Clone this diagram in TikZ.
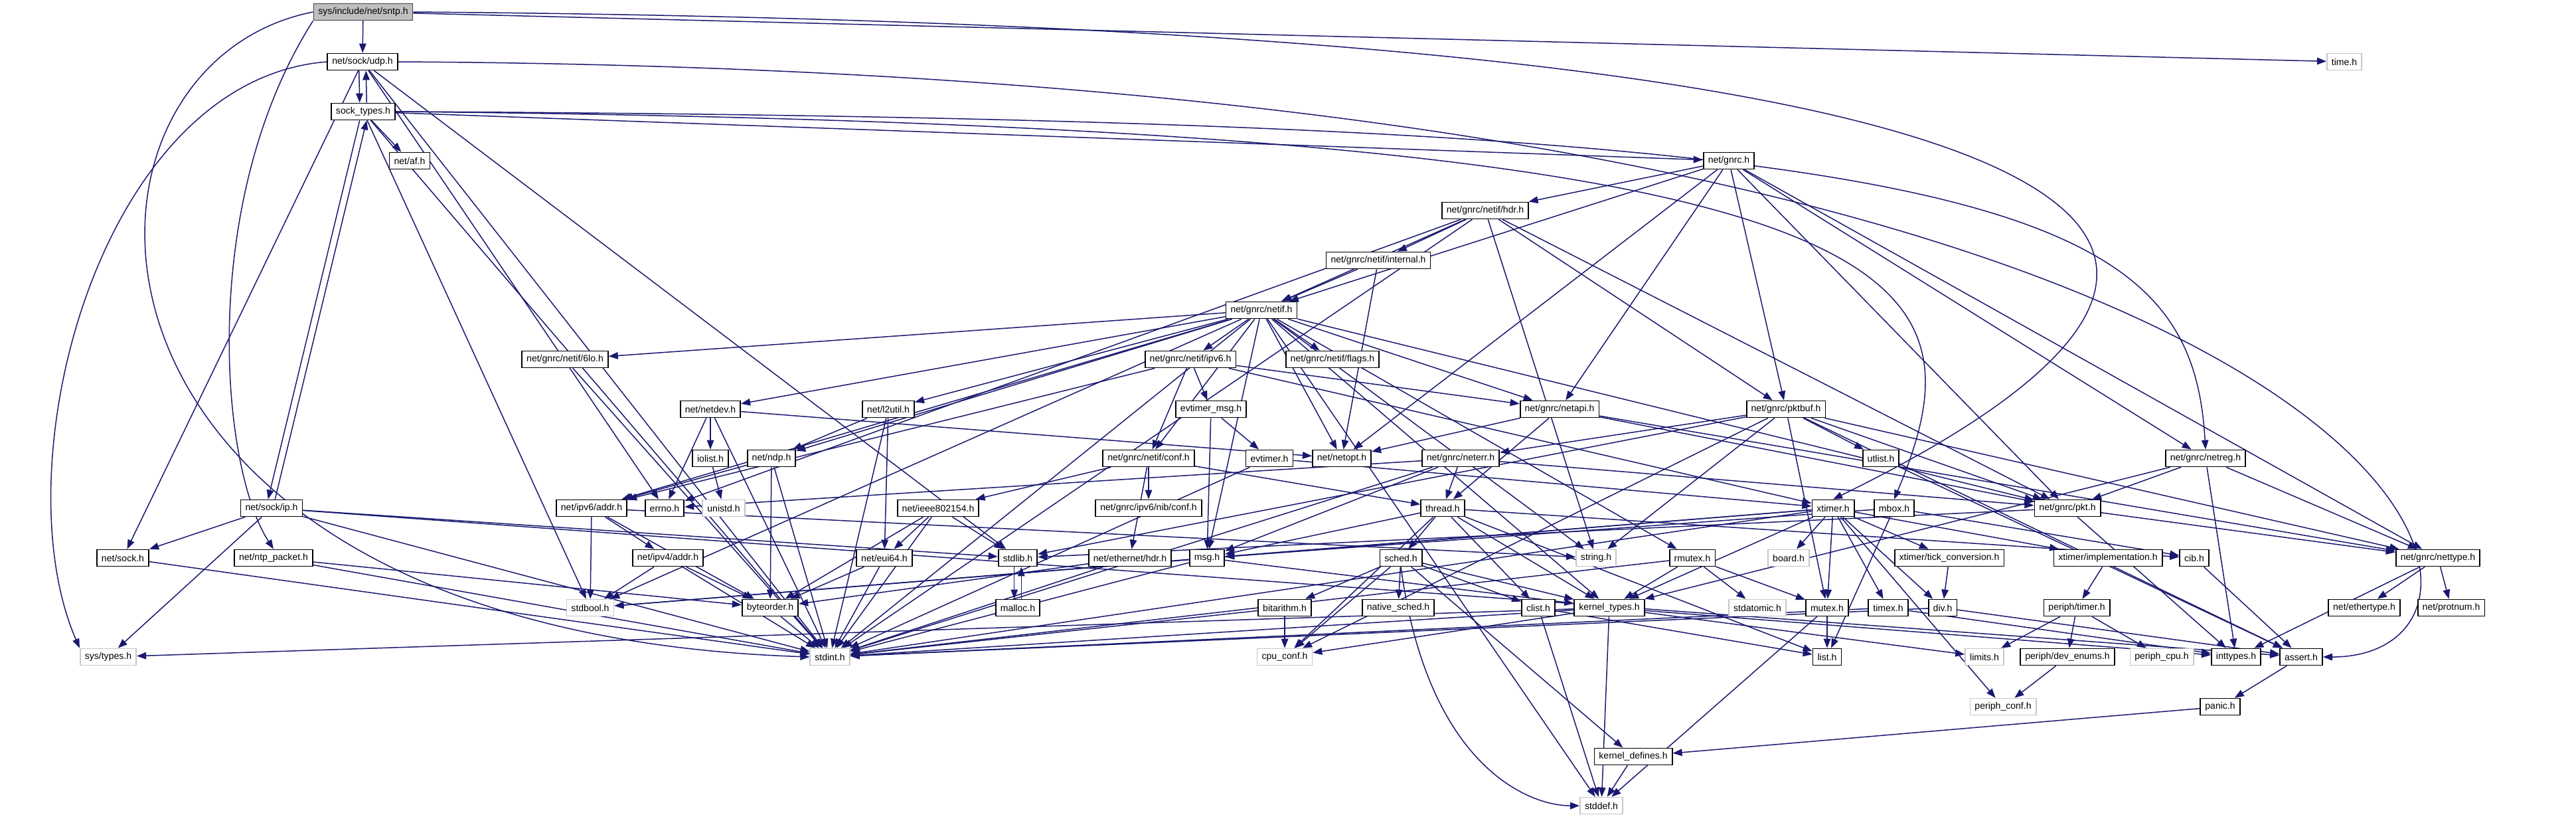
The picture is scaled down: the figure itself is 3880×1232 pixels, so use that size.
\documentclass[tikz,border=0pt]{standalone}
\usepackage{fontspec}
\setmainfont{Liberation Sans}
\usetikzlibrary{arrows.meta,backgrounds}
\definecolor{edgeblue}{RGB}{25,25,112}

\begin{document}
\begin{tikzpicture}[x=0.02cm,y=-0.02cm,
  file/.style={draw=black,line width=1pt,fill=white,inner xsep=4pt,inner ysep=0pt,
    minimum height=0.5cm,font=\fontsize{8}{9}\selectfont},
  extfile/.style={file,draw=gray!45},
  rootfile/.style={file,fill=gray!50,draw=black!75},
  dep/.style={draw=edgeblue,line width=0.85pt,-{Triangle[length=8pt,width=6pt]}}]
\useasboundingbox (0,0) rectangle (3880,1232);

% rows of the include graph
\node[rootfile] (sntp) at (547,18) {sys/include/net/sntp.h};
\node[file] (udp) at (546,93) {net/sock/udp.h};
\node[extfile] (timeh) at (3531,93) {time.h};
\node[file] (socktypes) at (547,168) {sock\_types.h};
\node[file] (af) at (617,242) {net/af.h};
\node[file] (gnrc) at (2604,242) {net/gnrc.h};
\node[file] (hdr) at (2237,317) {net/gnrc/netif/hdr.h};
\node[file] (internal) at (2076,392) {net/gnrc/netif/internal.h};
\node[file] (netif) at (1900,467) {net/gnrc/netif.h};
\node[file] (sixlo) at (851,541) {net/gnrc/netif/6lo.h};
\node[file] (ipvsix) at (1793,541) {net/gnrc/netif/ipv6.h};
\node[file] (flags) at (2007,541) {net/gnrc/netif/flags.h};
\node[file] (netdev) at (1070,616) {net/netdev.h};
\node[file] (ltwoutil) at (1338,616) {net/l2util.h};
\node[file] (evmsg) at (1824,616) {evtimer\_msg.h};
\node[file] (netapi) at (2349,616) {net/gnrc/netapi.h};
\node[file] (pktbuf) at (2690,616) {net/gnrc/pktbuf.h};
\node[file] (iolist) at (1070,690) {iolist.h};
\node[file] (ndp) at (1162,690) {net/ndp.h};
\node[file] (netifconf) at (1730,690) {net/gnrc/netif/conf.h};
\node[file] (evtimer) at (1912,690) {evtimer.h};
\node[file] (netopt) at (2021,690) {net/netopt.h};
\node[file] (neterr) at (2200,690) {net/gnrc/neterr.h};
\node[file] (utlist) at (2833,690) {utlist.h};
\node[file] (netreg) at (3322,690) {net/gnrc/netreg.h};
\node[file] (ip) at (409,765) {net/sock/ip.h};
\node[file] (ipvsixaddr) at (891,765) {net/ipv6/addr.h};
\node[file] (errno) at (1001,765) {errno.h};
\node[extfile] (unistd) at (1090,765) {unistd.h};
\node[file] (ieee) at (1413,765) {net/ieee802154.h};
\node[file] (nibconf) at (1730,765) {net/gnrc/ipv6/nib/conf.h};
\node[file] (thread) at (2173,765) {thread.h};
\node[file] (xtimer) at (2761,765) {xtimer.h};
\node[file] (mbox) at (2853,765) {mbox.h};
\node[file] (pkt) at (3114,765) {net/gnrc/pkt.h};
\node[file] (sock) at (185,840) {net/sock.h};
\node[file] (ntppkt) at (412,840) {net/ntp\_packet.h};
\node[file] (ipvfouraddr) at (1006,840) {net/ipv4/addr.h};
\node[file] (eui) at (1332,840) {net/eui64.h};
\node[file] (stdlib) at (1533,840) {stdlib.h};
\node[file] (ethhdr) at (1702,840) {net/ethernet/hdr.h};
\node[file] (msg) at (1818,840) {msg.h};
\node[file] (sched) at (2110,840) {sched.h};
\node[extfile] (string) at (2404,840) {string.h};
\node[file] (rmutex) at (2549,840) {rmutex.h};
\node[extfile] (board) at (2694,840) {board.h};
\node[file] (tickconv) at (2936,840) {xtimer/tick\_conversion.h};
\node[file] (impl) at (3175,840) {xtimer/implementation.h};
\node[file] (cib) at (3305,840) {cib.h};
\node[file] (nettype) at (3672,840) {net/gnrc/nettype.h};
\node[extfile] (stdbool) at (889,915) {stdbool.h};
\node[file] (byteorder) at (1160,915) {byteorder.h};
\node[file] (malloc) at (1533,915) {malloc.h};
\node[file] (bitarithm) at (1935,915) {bitarithm.h};
\node[file] (nativesched) at (2106,915) {native\_sched.h};
\node[file] (clist) at (2317,915) {clist.h};
\node[file] (kerneltypes) at (2424,915) {kernel\_types.h};
\node[extfile] (stdatomic) at (2647,915) {stdatomic.h};
\node[file] (mutex) at (2752,915) {mutex.h};
\node[file] (timex) at (2844,915) {timex.h};
\node[file] (div) at (2926,915) {div.h};
\node[file] (periphtimer) at (3128,915) {periph/timer.h};
\node[file] (ethertype) at (3561,915) {net/ethertype.h};
\node[file] (protnum) at (3692,915) {net/protnum.h};
\node[extfile] (systypes) at (163,989) {sys/types.h};
\node[extfile] (stdint) at (1250,989) {stdint.h};
\node[extfile] (cpuconf) at (1935,989) {cpu\_conf.h};
\node[file] (list) at (2752,989) {list.h};
\node[extfile] (limits) at (2989,989) {limits.h};
\node[file] (devenums) at (3114,989) {periph/dev\_enums.h};
\node[extfile] (periphcpu) at (3256,989) {periph\_cpu.h};
\node[file] (inttypes) at (3368,989) {inttypes.h};
\node[file] (assert) at (3466,989) {assert.h};
\node[extfile] (periphconf) at (3017,1064) {periph\_conf.h};
\node[file] (panic) at (3344,1064) {panic.h};
\node[file] (kerneldefines) at (2460,1139) {kernel\_defines.h};
\node[extfile] (stddef) at (2412,1213) {stddef.h};

\begin{scope}[on background layer]
% sntp.h and the sock headers
\draw[dep] (sntp)--(udp); \draw[dep] (sntp)--(timeh);
\draw[dep] (sntp.south west) .. controls (300,300) and (330,700) .. (ntppkt.north);
\draw[dep] (sntp.west) .. controls (56,100) and (56,950) .. (stdint.west);
\draw[dep] (sntp.east) .. controls (3450,40) and (3480,400) .. (xtimer.north);
\draw[dep] ([xshift=-3pt]udp.south)--([xshift=-3pt]socktypes.north);
\draw[dep] ([xshift=3pt]socktypes.north)--([xshift=3pt]udp.south);
\draw[dep] (udp.west) .. controls (150,120) and (0,700) .. (systypes.north west);
\draw[dep] (udp)--(sock); \draw[dep] (udp)--(stdint); \draw[dep] (udp)--(stdlib); \draw[dep] (udp)--(errno);
\draw[dep] (udp.east) .. controls (3700,110) and (3870,990) .. (assert.east);
\draw[dep] (socktypes)--(af); \draw[dep] (socktypes)--(gnrc);
\draw[dep] (socktypes.east) .. controls (3000,180) and (3300,300) .. (netreg.north);
\draw[dep] (socktypes.east) .. controls (2900,190) and (3000,400) .. (mbox.north);
\draw[dep] ([xshift=-3pt]socktypes.south)--([xshift=-3pt]ip.north);
\draw[dep] ([xshift=3pt]ip.north)--([xshift=3pt]socktypes.south);
\draw[dep] (socktypes)--(stdbool); \draw[dep] (socktypes)--(stdint);
\draw[dep] (ip)--(sock); \draw[dep] (ip)--(systypes); \draw[dep] (ip)--(stdint); \draw[dep] (ip)--(stdlib);
\draw[dep] (ip)--(assert);
% gnrc
\draw[dep] (gnrc)--(hdr); \draw[dep] (gnrc)--(netif); \draw[dep] (gnrc)--(netapi);
\draw[dep] (gnrc)--(netreg); \draw[dep] (gnrc)--(nettype); \draw[dep] (gnrc)--(pktbuf); \draw[dep] (gnrc)--(pkt);
\draw[dep] (gnrc)--(netopt);
\draw[dep] (hdr)--(internal); \draw[dep] (hdr)--(netif); \draw[dep] (hdr)--(string); \draw[dep] (hdr)--(stdint);
\draw[dep] (hdr)--(pkt); \draw[dep] (hdr)--(pktbuf); \draw[dep] (hdr)--(errno);
\draw[dep] (internal)--(netif); \draw[dep] (internal)--(netopt);
\draw[dep] (netif)--(sixlo); \draw[dep] (netif)--(ipvsix); \draw[dep] (netif)--(flags); \draw[dep] (netif)--(netdev);
\draw[dep] (netif)--(ltwoutil); \draw[dep] (netif)--(ndp); \draw[dep] (netif)--(ipvsixaddr); \draw[dep] (netif)--(netifconf);
\draw[dep] (netif)--(netopt); \draw[dep] (netif)--(netapi); \draw[dep] (netif)--(pkt); \draw[dep] (netif)--(kerneltypes);
\draw[dep] (netif)--(rmutex); \draw[dep] (netif)--(msg); \draw[dep] (netif)--(stdint); \draw[dep] (netif)--(stdbool);
\draw[dep] (netif)--(stddef); \draw[dep] (netif)--(string);
\draw[dep] (sixlo)--(stdint);
\draw[dep] (ipvsix)--(evmsg); \draw[dep] (ipvsix)--(netifconf); \draw[dep] (ipvsix)--(ipvsixaddr);
\draw[dep] (ipvsix)--(netapi); \draw[dep] (ipvsix)--(xtimer);
\draw[dep] (netdev)--(iolist); \draw[dep] (netdev)--(errno); \draw[dep] (netdev)--(netopt); \draw[dep] (netdev)--(stdint);
\draw[dep] (iolist)--(unistd);
\draw[dep] (ltwoutil)--(ndp); \draw[dep] (ltwoutil)--(eui); \draw[dep] (ltwoutil)--(stdint);
\draw[dep] (evmsg)--(evtimer); \draw[dep] (evmsg)--(msg);
\draw[dep] (evtimer)--(xtimer); \draw[dep] (evtimer)--(stdint);
\draw[dep] (netifconf)--(ieee); \draw[dep] (netifconf)--(ethhdr); \draw[dep] (netifconf)--(nibconf); \draw[dep] (netifconf)--(thread);
\draw[dep] (ieee)--(byteorder); \draw[dep] (ieee)--(eui); \draw[dep] (ieee)--(stdint); \draw[dep] (ieee)--(stdlib);
\draw[dep] (ndp)--(ipvsixaddr); \draw[dep] (ndp)--(byteorder); \draw[dep] (ndp)--(stdint);
\draw[dep] (netapi)--(thread); \draw[dep] (netapi)--(netopt); \draw[dep] (netapi)--(nettype); \draw[dep] (netapi)--(pkt);
\draw[dep] (pktbuf)--(neterr); \draw[dep] (pktbuf)--(utlist); \draw[dep] (pktbuf)--(pkt); \draw[dep] (pktbuf)--(nettype);
\draw[dep] (pktbuf)--(mutex); \draw[dep] (pktbuf)--(stdlib); \draw[dep] (pktbuf)--(string); \draw[dep] (pktbuf)--(cpuconf);
\draw[dep] (pktbuf)--(assert);
\draw[dep] (pkt)--(nettype); \draw[dep] (pkt)--(inttypes); \draw[dep] (pkt)--(stdlib);
\draw[dep] (netreg)--(pkt); \draw[dep] (netreg)--(nettype); \draw[dep] (netreg)--(kerneltypes); \draw[dep] (netreg)--(inttypes);
\draw[dep] (neterr)--(errno); \draw[dep] (neterr)--(thread); \draw[dep] (neterr)--(msg); \draw[dep] (neterr)--(pkt);
\draw[dep] (neterr)--(stdint);
\draw[dep] (utlist)--(assert);
% core headers
\draw[dep] (thread)--(clist); \draw[dep] (thread)--(cib); \draw[dep] (thread)--(msg); \draw[dep] (thread)--(cpuconf);
\draw[dep] (thread)--(sched); \draw[dep] (thread)--(list); \draw[dep] (thread)--(kerneltypes);
\draw[dep] (xtimer)--(stdbool); \draw[dep] (xtimer)--(stdint); \draw[dep] (xtimer)--(timex); \draw[dep] (xtimer)--(div);
\draw[dep] (xtimer)--(msg); \draw[dep] (xtimer)--(mutex); \draw[dep] (xtimer)--(board); \draw[dep] (xtimer)--(periphconf);
\draw[dep] (xtimer)--(tickconv); \draw[dep] (xtimer)--(impl); \draw[dep] (xtimer)--(kerneltypes);
\draw[dep] (mbox)--(list); \draw[dep] (mbox)--(cib); \draw[dep] (mbox)--(msg);
\draw[dep] (sched)--(bitarithm); \draw[dep] (sched)--(nativesched); \draw[dep] (sched)--(clist); \draw[dep] (sched)--(kerneltypes);
\draw[dep] (sched.south) .. controls (2150,1150) and (2300,1213) .. (stddef.west);
\draw[dep] (sched)--(kerneldefines); \draw[dep] (sched)--(cpuconf);
\draw[dep] (rmutex)--(stdatomic); \draw[dep] (rmutex)--(mutex); \draw[dep] (rmutex)--(kerneltypes); \draw[dep] (rmutex)--(stdint);
\draw[dep] (msg)--(stdint); \draw[dep] (msg)--(stdbool); \draw[dep] (msg)--(kerneltypes);
\draw[dep] (ethhdr)--(byteorder); \draw[dep] (ethhdr)--(stdint);
\draw[dep] (eui)--(byteorder); \draw[dep] (eui)--(stdint);
\draw[dep] ([xshift=-3pt]stdlib.south)--([xshift=-3pt]malloc.north);
\draw[dep] ([xshift=3pt]malloc.north)--([xshift=3pt]stdlib.south);
\draw[dep] (ipvfouraddr)--(stdbool); \draw[dep] (ipvfouraddr)--(stdint); \draw[dep] (ipvfouraddr)--(byteorder);
\draw[dep] (ipvsixaddr)--(stdbool); \draw[dep] (ipvsixaddr)--(ipvfouraddr); \draw[dep] (ipvsixaddr)--(byteorder);
\draw[dep] (ipvsixaddr)--(string);
\draw[dep] (byteorder)--(stdint);
\draw[dep] (bitarithm)--(stdint); \draw[dep] (bitarithm)--(cpuconf);
\draw[dep] (clist)--(stddef); \draw[dep] (clist)--(list);
\draw[dep] (kerneltypes)--(stdint); \draw[dep] (kerneltypes)--(inttypes); \draw[dep] (kerneltypes)--(stddef);
\draw[dep] (kerneltypes)--(systypes); \draw[dep] (kerneltypes)--(cpuconf); \draw[dep] (kerneltypes)--(limits);
\draw[dep] (mutex)--(stddef); \draw[dep] (mutex)--(list);
\draw[dep] (timex)--(stdint); \draw[dep] (timex)--(inttypes);
\draw[dep] (tickconv)--(div); \draw[dep] (impl)--(periphtimer);
\draw[dep] (div)--(assert); \draw[dep] (div)--(stdint);
\draw[dep] (periphtimer)--(limits); \draw[dep] (periphtimer)--(devenums); \draw[dep] (periphtimer)--(periphcpu);
\draw[dep] (devenums)--(periphconf);
\draw[dep] (cib)--(assert);
\draw[dep] (nettype)--(ethertype); \draw[dep] (nettype)--(protnum); \draw[dep] (nettype)--(inttypes);
\draw[dep] (assert)--(panic); \draw[dep] (panic)--(kerneldefines); \draw[dep] (kerneldefines)--(stddef);
\draw[dep] (sock)--(stdint);
\draw[dep] (ntppkt)--(stdint); \draw[dep] (ntppkt)--(byteorder);
\end{scope}
\end{tikzpicture}
\end{document}
